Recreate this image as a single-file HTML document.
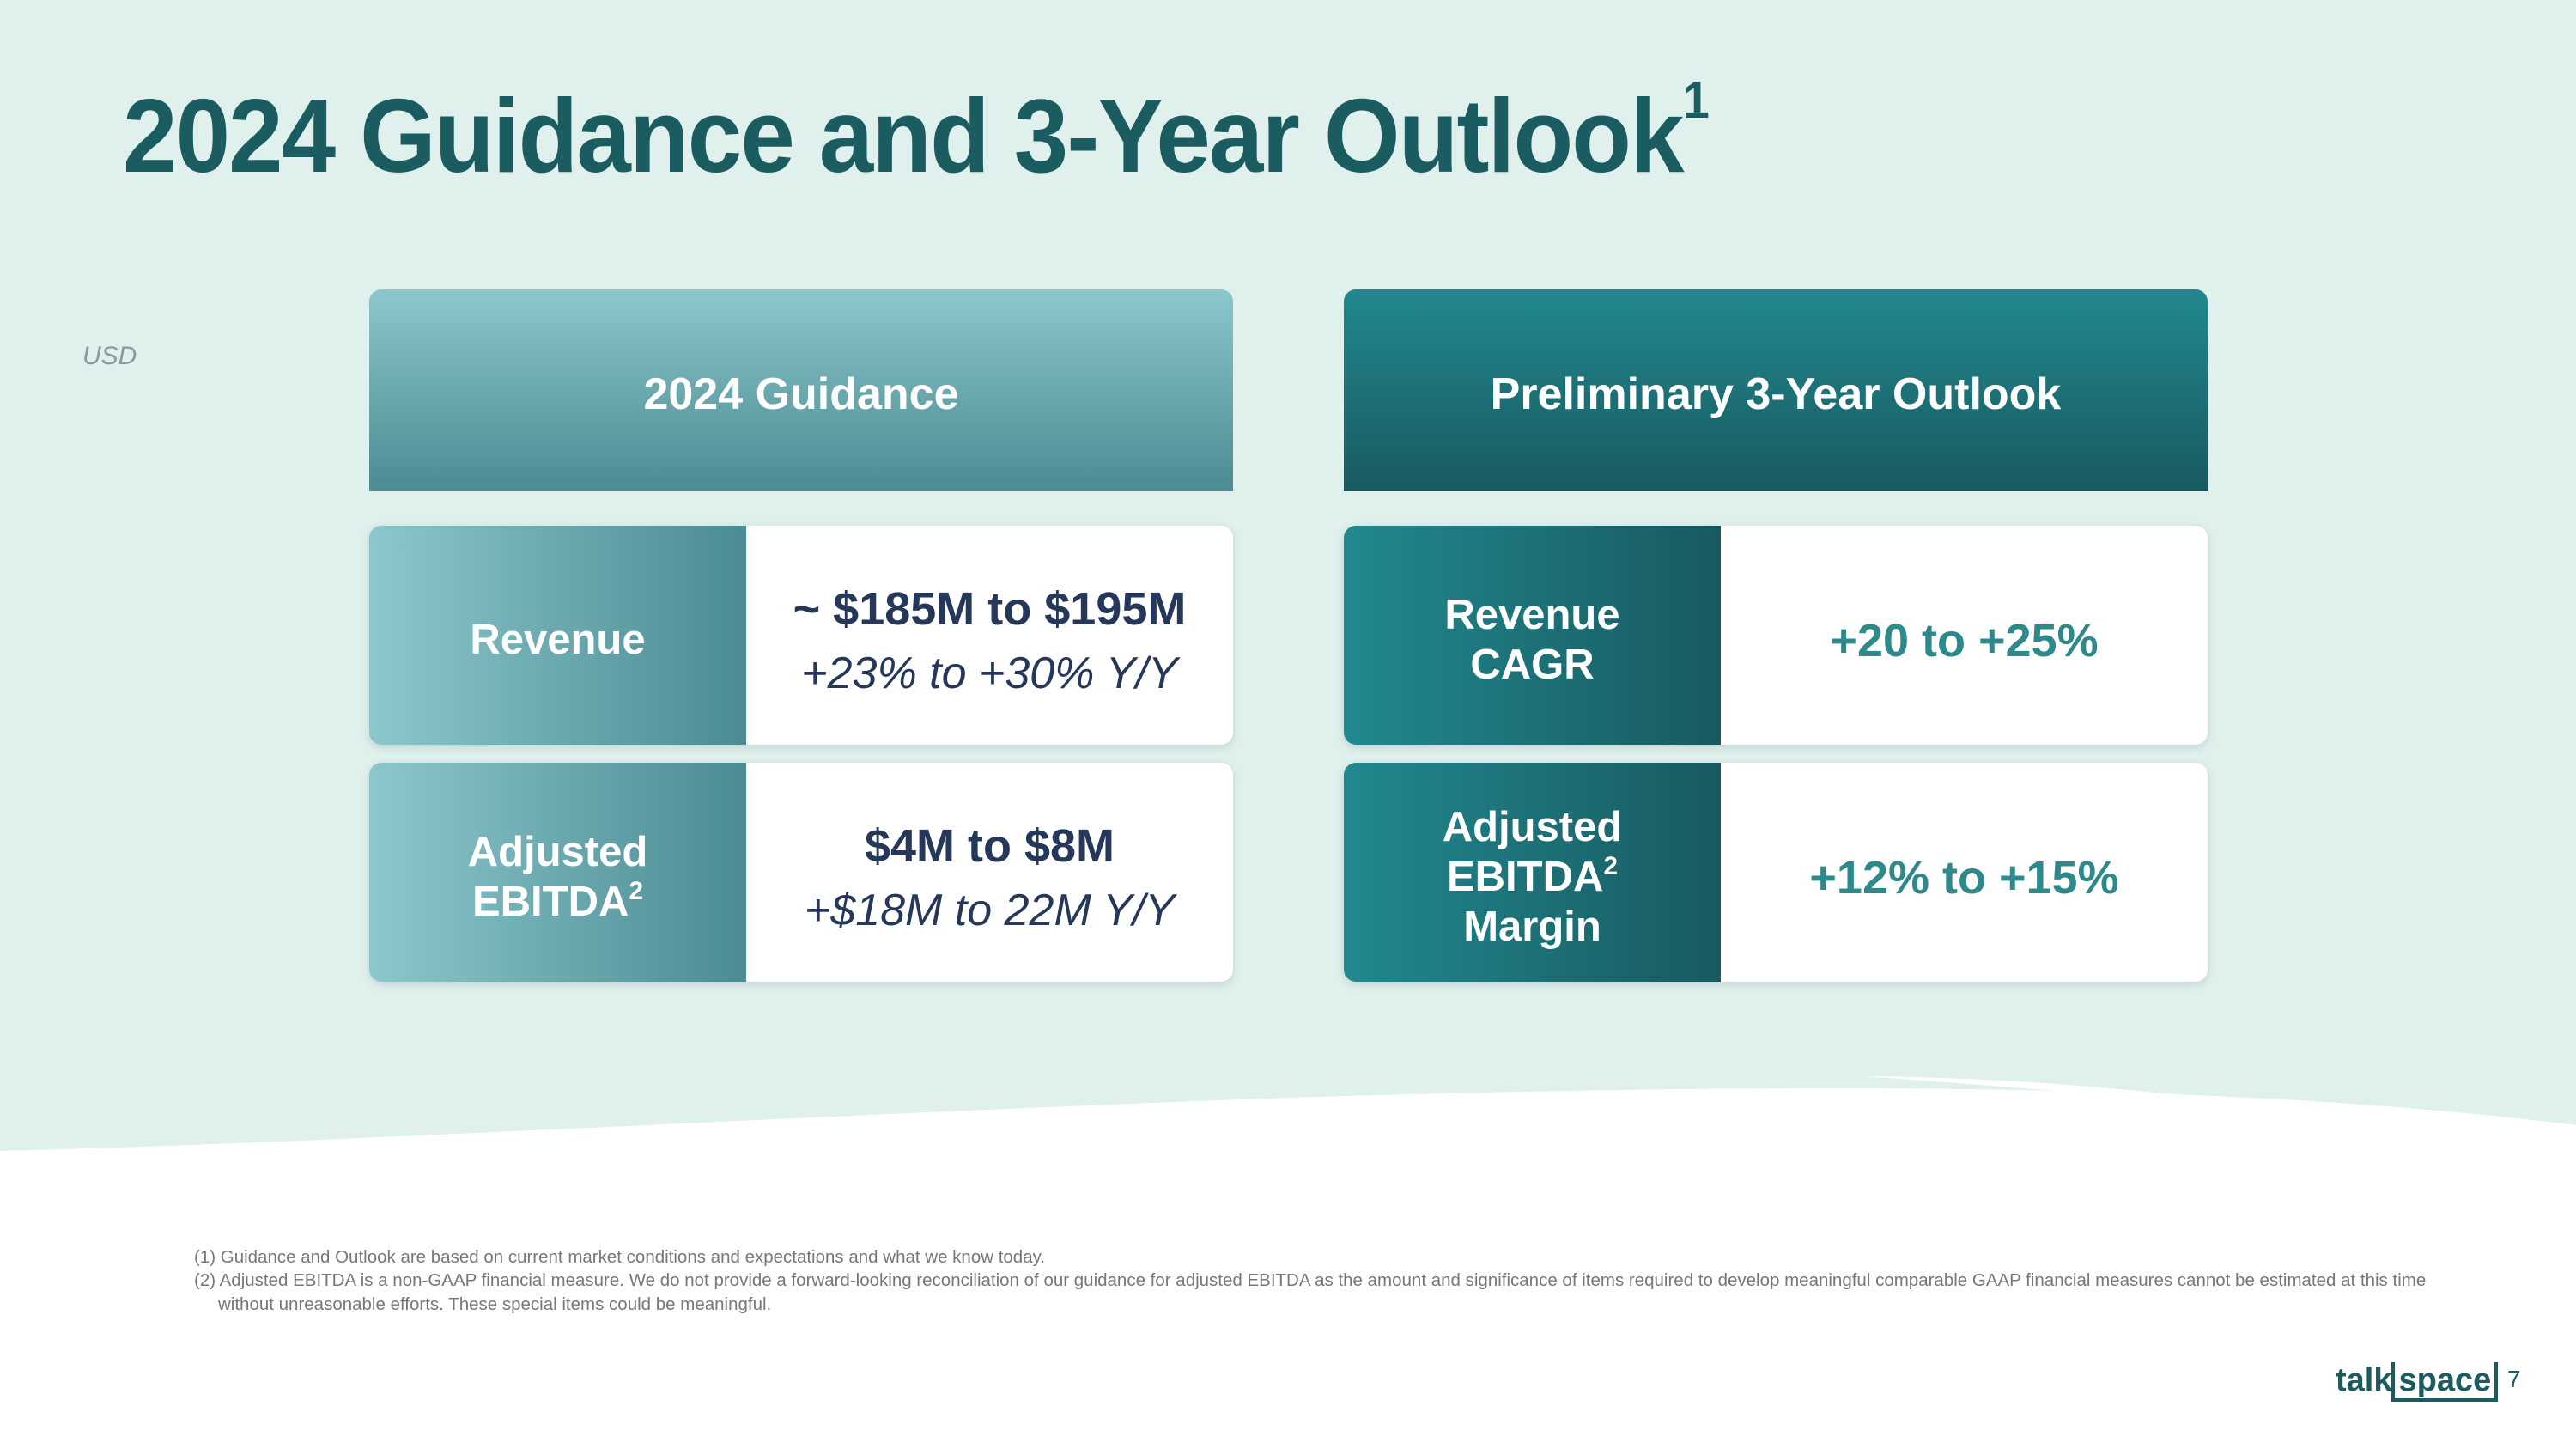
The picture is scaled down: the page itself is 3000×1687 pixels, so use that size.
<!DOCTYPE html>
<html><head><meta charset="utf-8"><style>
*{margin:0;padding:0;box-sizing:border-box}
body{width:3000px;height:1687px;position:relative;overflow:hidden;background:#fff;font-family:"Liberation Sans",Arial,sans-serif}
.abs{position:absolute}
.title{left:143px;top:88px;font-size:122px;font-weight:bold;color:#1b5c60;letter-spacing:-2px;white-space:nowrap;transform:scaleX(0.935);transform-origin:0 0}
.title sup{font-size:60px;vertical-align:top;position:relative;top:-6px}
.usd{left:96px;top:398px;font-size:30px;font-style:italic;color:#8a9a9a}
.hdr{top:337px;height:235px;width:1006px;border-radius:14px 14px 0 0;color:#fff;font-weight:bold;font-size:52px;display:flex;align-items:center;justify-content:center;padding-top:8px}
.h1{left:430px;background:linear-gradient(#8cc7cc,#4b8b92)}
.h2{left:1565px;background:linear-gradient(#22888f,#185a60)}
.card{width:1006px;height:255px;border-radius:14px;background:#fff;box-shadow:0 3px 10px rgba(0,60,60,.15);display:flex;overflow:hidden}
.lab{width:439px;color:#fff;font-weight:bold;font-size:49px;display:flex;align-items:center;justify-content:center;text-align:center;line-height:58px;padding-top:10px}
.l1{background:linear-gradient(90deg,#8cc7cc,#4b8b92)}
.l2{background:linear-gradient(90deg,#22888f,#185a60)}
.val{flex:1;display:flex;flex-direction:column;align-items:center;justify-content:center;text-align:center;padding-top:12px}
.b{font-size:54px;font-weight:bold;color:#263859;line-height:76px}
.i{font-size:52px;font-style:italic;color:#263859;line-height:74px}
.t{font-size:54px;font-weight:bold;color:#2e8a8a}
sup.s{font-size:30px;vertical-align:top;line-height:30px;position:relative;top:2px}
.fn{left:226px;font-size:20.5px;color:#777;white-space:nowrap}
</style></head><body>
<svg class="abs" style="left:0;top:0" width="3000" height="1687">
<rect width="3000" height="1687" fill="#e0f0ed"/>
<path d="M0,1340 C400,1330 900,1300 1500,1278 C2100,1260 2600,1260 3000,1310 L3000,1687 L0,1687 Z" fill="#fff"/>
<path d="M2170,1253 C2400,1255 2600,1280 2710,1298 C2550,1282 2380,1268 2170,1253 Z" fill="#fff"/>
</svg>
<div class="abs title">2024 Guidance and 3-Year Outlook<sup>1</sup></div>
<div class="abs usd">USD</div>
<div class="abs hdr h1">2024 Guidance</div>
<div class="abs hdr h2">Preliminary 3-Year Outlook</div>
<div class="abs card" style="left:430px;top:612px"><div class="lab l1"><div>Revenue</div></div><div class="val"><div class="b">~ $185M to $195M</div><div class="i">+23% to +30% Y/Y</div></div></div>
<div class="abs card" style="left:430px;top:888px"><div class="lab l1"><div>Adjusted<br>EBITDA<sup class="s">2</sup></div></div><div class="val"><div class="b">$4M to $8M</div><div class="i">+$18M to 22M Y/Y</div></div></div>
<div class="abs card" style="left:1565px;top:612px"><div class="lab l2"><div>Revenue<br>CAGR</div></div><div class="val"><div class="t">+20 to +25%</div></div></div>
<div class="abs card" style="left:1565px;top:888px"><div class="lab l2"><div>Adjusted<br>EBITDA<sup class="s">2</sup><br>Margin</div></div><div class="val"><div class="t">+12% to +15%</div></div></div>
<div class="abs fn" style="top:1452px">(1) Guidance and Outlook are based on current market conditions and expectations and what we know today.</div>
<div class="abs fn" style="top:1479px">(2) Adjusted EBITDA is a non-GAAP financial measure. We do not provide a forward-looking reconciliation of our guidance for adjusted EBITDA as the amount and significance of items required to develop meaningful comparable GAAP financial measures cannot be estimated at this time</div>
<div class="abs fn" style="top:1507px;left:254px">without unreasonable efforts. These special items could be meaningful.</div>
<div class="abs" style="left:2720px;top:1586px;font-size:38px;font-weight:bold;color:#1b5c60;white-space:nowrap">talk<span style="border:4px solid #1b5c60;border-top:none;padding:0 4px">space</span></div>
<div class="abs" style="left:2920px;top:1590px;font-size:28px;color:#1b5c60">7</div>
</body></html>
